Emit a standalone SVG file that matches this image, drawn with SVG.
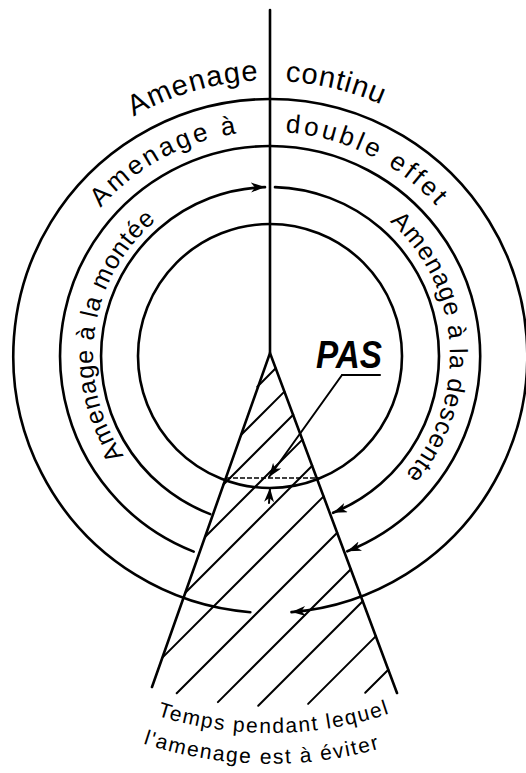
<svg xmlns="http://www.w3.org/2000/svg" width="526" height="773" viewBox="0 0 526 773">
<style>
.ln{fill:none;stroke:#000;stroke-width:2.6;stroke-linecap:round}
.h{fill:none;stroke:#000;stroke-width:2;stroke-linecap:round}
.t{font-family:"Liberation Sans","DejaVu Sans",sans-serif;fill:#000}
.pas{font-family:"Liberation Sans",sans-serif;font-weight:bold;font-style:italic;fill:#000}
</style>
<defs>
<marker id="ah" markerUnits="userSpaceOnUse" markerWidth="15" markerHeight="11" refX="14" refY="5" orient="auto">
<path d="M0,0 L14,5 L0,10 L4,5 z" fill="#000"/>
</marker>
<path id="p1" d="M133.5,116.7 A276,276 0 0 1 258,80.3"/>
<path id="p2" d="M285.2,81.4 A275,275 0 0 1 381.8,104.8"/>
<path id="p3" d="M100.7,207.8 A225,225 0 0 1 238.7,133.2"/>
<path id="p4" d="M285.2,132.5 A224,224 0 0 1 437.8,207.6"/>
<path id="p5" d="M123.8,455.7 A177,177 0 0 1 156.9,219.9"/>
<path id="p6" d="M389.7,221.6 A180,180 0 0 1 404.4,475.7"/>
<path id="p7" d="M157,715.7 A377,377 0 0 0 392,712.7"/>
<path id="p8" d="M143,743.5 A408,408 0 0 0 383,747.8"/>
</defs>
<rect width="526" height="773" fill="#fff"/>

<g id="axis">
<line class="ln" x1="270" y1="10" x2="270" y2="353"/>
</g>

<g id="circle-inner">
<circle class="ln" cx="270" cy="356" r="132"/>
</g>

<g id="wedge">
<path class="ln" d="M152,687 L270,353 L397,693"/>
<g id="hatch">
<line class="h" x1="257.3" y1="386.7" x2="275.7" y2="368.3"/>
<line class="h" x1="241" y1="435" x2="284.4" y2="391.6"/>
<line class="h" x1="223.5" y1="484.5" x2="293.2" y2="414.8"/>
<line class="h" x1="205" y1="537" x2="302.4" y2="439.6"/>
<line class="h" x1="185.3" y1="592.7" x2="312.2" y2="465.8"/>
<line class="h" x1="162.4" y1="657.6" x2="323.6" y2="496.4"/>
<line class="h" x1="176.7" y1="693.3" x2="337.2" y2="532.8"/>
<line class="h" x1="217.9" y1="702.1" x2="350.8" y2="569.2"/>
<line class="h" x1="258.2" y1="705.8" x2="362.7" y2="601.3"/>
<line class="h" x1="308.1" y1="703.9" x2="375.9" y2="636.1"/>
<line class="h" x1="365.2" y1="692.8" x2="388.3" y2="669.8"/>
</g>
<line x1="226" y1="478" x2="320" y2="478" stroke="#000" stroke-width="1.6" stroke-dasharray="5 2"/>
</g>

<g id="connectors">
<path class="ln" marker-end="url(#ah)" d="M250.3,612.2 A257,257 0 1 1 291.5,612.1"/>
<path class="ln" marker-end="url(#ah)" d="M193.7,551.6 A210,210 0 1 1 347.3,551.3"/>
<path class="ln" marker-end="url(#ah)" d="M210.3,514.1 A169,169 0 0 1 265,187.1"/>
<path class="ln" marker-end="url(#ah)" d="M275,187.1 A169,169 0 0 1 333.1,512.8"/>
<path class="h" d="M380,375 L342,375"/>
<line class="h" x1="342" y1="375" x2="269" y2="477" marker-end="url(#ah)"/>
<line class="h" x1="269" y1="503" x2="270" y2="488" marker-end="url(#ah)"/>
</g>

<g id="labels">
<text class="t" font-size="29"><textPath href="#p1" textLength="131" lengthAdjust="spacing">Amenage</textPath></text>
<text class="t" font-size="29"><textPath href="#p2" textLength="99" lengthAdjust="spacing">continu</textPath></text>
<text class="t" font-size="26"><textPath href="#p3" textLength="158" lengthAdjust="spacing">Amenage à</textPath></text>
<text class="t" font-size="26"><textPath href="#p4" textLength="172" lengthAdjust="spacing">double effet</textPath></text>
<text class="t" font-size="25"><textPath href="#p5" textLength="260" lengthAdjust="spacing">Amenage à la montée</textPath></text>
<text class="t" font-size="25"><textPath href="#p6" textLength="281" lengthAdjust="spacing">Amenage à la descente</textPath></text>
<text class="pas" x="316" y="368" font-size="38" textLength="66" lengthAdjust="spacingAndGlyphs">PAS</text>
<text class="t" font-size="21"><textPath href="#p7" textLength="236" lengthAdjust="spacing">Temps pendant lequel</textPath></text>
<text class="t" font-size="21"><textPath href="#p8" textLength="240" lengthAdjust="spacing">l'amenage est à éviter</textPath></text>
</g>
</svg>
